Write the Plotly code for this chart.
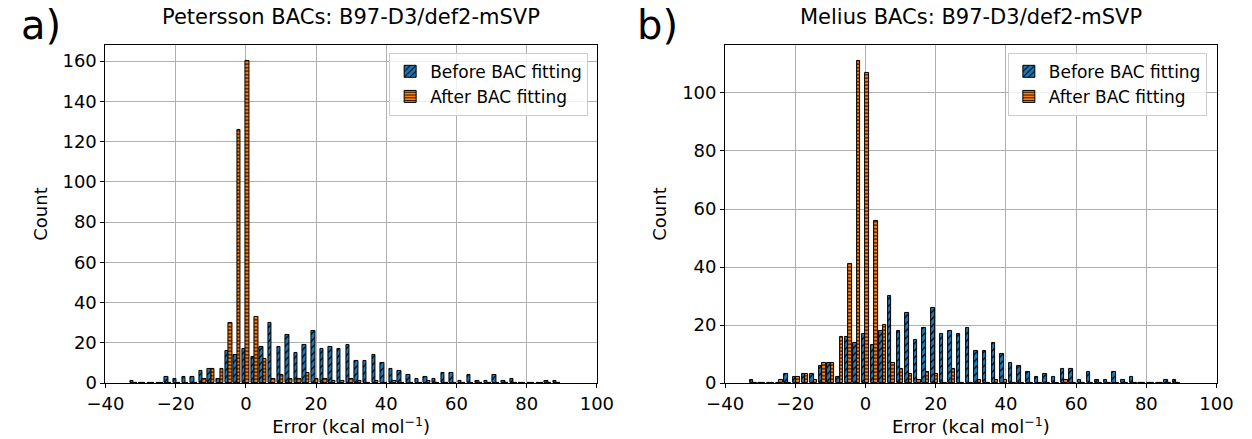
import plotly.graph_objects as go

# Histogram data (50 equal-width bins)
bin_start = -33.2
bin_width = 2.46
before_counts = [1,0,0,0,3,2,3,3,6,7,2,16,14,17,13,18,30,18,24,15,19,26,17,18,17,19,11,11,14,10,
                 7,6,4,2,3,2,5,5,1,4,1,1,4,1,2,0,0,0,1,1]
after_petersson = [0,0,0,0,0,0,0,0,2,7,7,30,126,160,33,12,2,4,2,2,5,2,2,1,1,2,1,0,1,0,
                   1,0,0,0,1,0,0,0,0,0,0,0,0,0,0,0,0,0,0,0]
after_melius = [0,0,0,1,0,2,3,1,7,7,16,41,111,107,56,20,7,5,3,1,4,3,0,5,0,0,1,0,1,1,
                0,0,0,0,0,0,1,0,0,0,0,0,0,0,0,0,0,0,0,0]
titles = ["Petersson BACs: B97-D3/def2-mSVP", "Melius BACs: B97-D3/def2-mSVP"]
panel_labels = ["a)", "b)"]
series_names = ["Before BAC fitting", "After BAC fitting"]
x_ticks = [-40, -20, 0, 20, 40, 60, 80, 100]

centers = [bin_start + (i + 0.5) * bin_width for i in range(len(before_counts))]

BLUE = "#1f77b4"
ORANGE = "#ff7f0e"
FONT = "DejaVu Sans"

W, H = 1252, 439
dom_x = [[89 / W, 595 / W], [727 / W, 1233 / W]]
dom_y = [(H - 392) / H, (H - 46) / H]

fig = go.Figure()
afters = [after_petersson, after_melius]
for k in range(2):
    xa = "x" if k == 0 else "x2"
    ya = "y" if k == 0 else "y2"
    lg = "legend" if k == 0 else "legend2"
    bw = 0.4 * bin_width
    fig.add_trace(go.Bar(
        x=centers, y=before_counts, width=bw, offset=-bw, name=series_names[0],
        xaxis=xa, yaxis=ya, legend=lg,
        marker=dict(color=BLUE, line=dict(color="black", width=1),
                    pattern=dict(shape="/", fillmode="replace", bgcolor=BLUE,
                                 fgcolor="black", size=5, solidity=0.25)),
    ))
    fig.add_trace(go.Bar(
        x=centers, y=afters[k], width=bw, offset=0, name=series_names[1],
        xaxis=xa, yaxis=ya, legend=lg,
        marker=dict(color=ORANGE, line=dict(color="black", width=1),
                    pattern=dict(shape="-", fillmode="replace", bgcolor=ORANGE,
                                 fgcolor="black", size=3.5, solidity=0.3)),
    ))

axis_common = dict(showline=True, mirror=True, linecolor="black", linewidth=1,
                   ticks="outside", ticklen=4, tickcolor="black",
                   showgrid=True, gridcolor="#b0b0b0", gridwidth=1, zeroline=False,
                   tickfont=dict(family=FONT, size=18, color="black"))

ymax = [max(after_petersson) * 1.05, max(after_melius) * 1.05]
for k in range(2):
    sfx = "" if k == 0 else "2"
    fig.update_layout(**{
        "xaxis" + sfx: dict(axis_common, domain=dom_x[k], range=[-40, 100],
                            tickvals=x_ticks, anchor="y" + sfx,
                            title=dict(text="Error (kcal mol<sup>−1</sup>)",
                                       font=dict(family=FONT, size=18, color="black"),
                                       standoff=2)),
        "yaxis" + sfx: dict(axis_common, domain=dom_y, range=[0, ymax[k]],
                            dtick=20, anchor="x" + sfx,
                            title=dict(text="Count",
                                       font=dict(family=FONT, size=18, color="black"),
                                       standoff=10)),
    })

annotations = []
for k in range(2):
    annotations.append(dict(text=titles[k], xref="paper", yref="paper",
                            x=(dom_x[k][0] + dom_x[k][1]) / 2, y=(H - 32) / H,
                            xanchor="center", yanchor="bottom", showarrow=False,
                            font=dict(family=FONT, size=21, color="black")))
annotations.append(dict(text=panel_labels[0], xref="paper", yref="paper",
                        x=0, y=1.0, xanchor="left", yanchor="top", showarrow=False,
                        font=dict(family=FONT, size=40, color="black")))
annotations.append(dict(text=panel_labels[1], xref="paper", yref="paper",
                        x=634 / W, y=1.0, xanchor="left", yanchor="top", showarrow=False,
                        font=dict(family=FONT, size=40, color="black")))

legend_common = dict(bgcolor="rgba(255,255,255,0.8)", bordercolor="#cccccc", borderwidth=1,
                     font=dict(family=FONT, size=17, color="black"),
                     xanchor="right", yanchor="top", y=(H - 54) / H,
                     traceorder="normal", tracegroupgap=2)

fig.update_layout(
    width=W, height=H, margin=dict(l=0, r=0, t=0, b=0),
    paper_bgcolor="white", plot_bgcolor="white",
    barmode="overlay", bargap=0,
    showlegend=True,
    legend=dict(legend_common, x=586 / W),
    legend2=dict(legend_common, x=1223 / W),
    annotations=annotations,
    font=dict(family=FONT, color="black"),
)

fig.write_html("out.html")
